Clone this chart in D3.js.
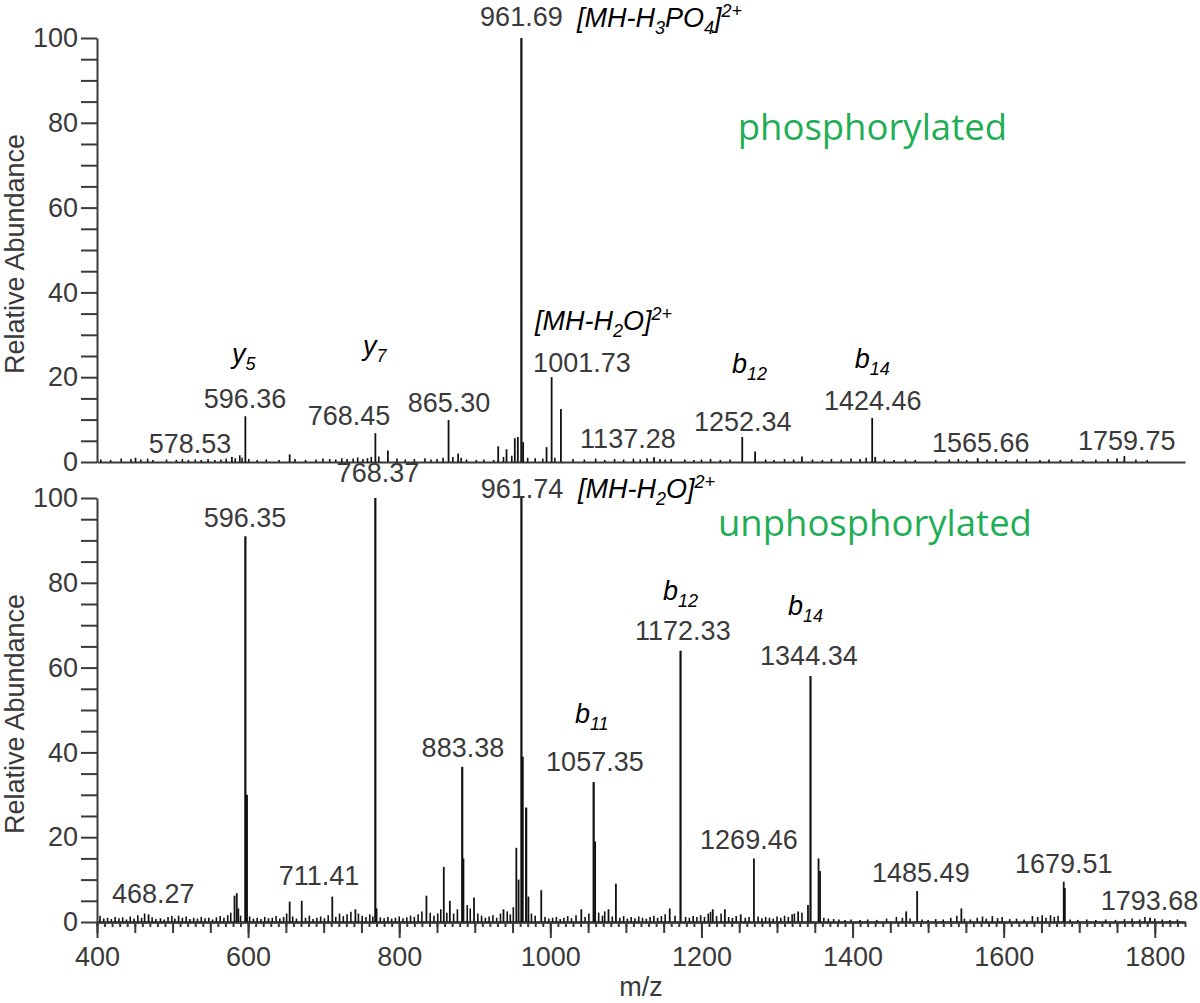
<!DOCTYPE html>
<html>
<head>
<meta charset="utf-8">
<script src="https://cdn.jsdelivr.net/npm/d3@7"></script>
<style>
  html, body { margin: 0; padding: 0; background: #fff; }
  svg { display: block; }
</style>
</head>
<body>
<svg id="chart" width="1200" height="1003"></svg>
<script>
// ---------------- DATA ----------------
// Phosphorylated spectrum: main peaks [m/z, relative abundance]
const phosPeaks = [
  [578.53, 1.2], [596.36, 10.8], [655, 1.8], [768.45, 6.8], [785, 2.7],
  [865.30, 9.9], [878, 2.0], [931, 3.7], [942, 3.0], [953, 5.6], [957, 5.9],
  [961.69, 100], [964, 4.7], [995, 3.5], [1001.73, 20], [1014, 12.5],
  [1137.28, 1.1], [1254, 5.9], [1271, 2.5], [1333, 1.3], [1426, 10.4], [1430, 1.2],
  [1565.66, 0.9], [1759.75, 1.4]
];
// Phosphorylated spectrum: baseline noise peaks
const phosNoise = [
  [405,0.6],[418,0.5],[432,0.8],[445,0.7],[451,1.0],[458,0.6],[467,0.8],[474,0.5],[492,0.6],
  [505,0.5],[513,0.7],[521,0.5],[530,0.6],[538,0.5],[547,0.7],[556,0.5],[564,0.6],[571,0.8],
  [583,0.9],[589,1.6],[592,1.0],[601,0.7],[612,0.5],[624,0.6],[641,0.5],[662,0.7],[676,0.5],
  [690,0.6],[699,0.8],[708,0.7],[716,0.6],[724,0.9],[731,0.7],[739,0.8],[745,1.1],[752,0.7],
  [758,0.9],[763,1.2],[773,1.3],[797,0.8],[808,0.6],[820,0.7],[834,0.9],[842,0.6],[850,0.7],
  [858,1.0],[871,1.2],[882,1.0],[889,0.6],[902,0.5],[912,0.6],[925,0.5],[938,1.2],[949,1.5],
  [970,1.0],[980,0.9],[990,0.8],[1006,1.0],[1030,0.7],[1045,0.6],[1060,0.8],[1072,0.5],
  [1085,0.7],[1097,0.6],[1110,0.8],[1119,0.6],[1128,0.9],[1145,0.7],[1152,0.6],[1160,0.7],
  [1178,0.6],[1190,0.5],[1200,0.6],[1212,0.7],[1225,0.5],[1238,0.6],[1285,0.6],[1296,0.5],
  [1310,0.7],[1322,0.6],[1347,0.6],[1360,0.5],[1372,0.7],[1385,0.6],[1398,0.8],[1410,0.7],
  [1418,1.0],[1442,0.6],[1455,0.5],[1470,0.6],[1483,0.5],[1510,0.5],[1528,0.6],[1540,0.7],
  [1551,0.5],[1578,0.6],[1590,0.7],[1603,0.5],[1618,0.6],[1630,0.7],[1648,0.5],[1660,0.6],
  [1675,0.5],[1690,0.6],[1705,0.5],[1722,0.6],[1738,0.7],[1750,0.9],[1775,0.6],[1790,0.5]
];
// Unphosphorylated spectrum: main peaks
const unphosPeaks = [
  [468.27, 1.8], [582, 6.2], [585, 6.8], [587, 3.2], [596.35, 91], [598.3, 30],
  [655, 4.8], [671, 5.0], [711.41, 6.0], [742, 3.0], [768.37, 100], [770, 3.2],
  [836, 6.2], [859, 13], [867, 5.0], [883.38, 36.6], [885, 15], [899, 5.8], [938, 3.0],
  [955, 17.5], [958, 10], [961.74, 100], [963.3, 39], [968, 27], [971, 6.0], [988, 7.5],
  [1041, 3.0], [1057.35, 33], [1059.3, 19], [1077, 3.0], [1086.8, 9.0], [1158, 3.2],
  [1172.33, 64], [1215, 3.0], [1231, 3.0], [1252, 1.8], [1269.46, 15], [1328, 2.5],
  [1341, 4.0], [1344.34, 58], [1355, 15], [1357, 12], [1471, 2.5], [1485.49, 7.3],
  [1544, 3.2], [1679.51, 9.5], [1681, 8.0], [1793.68, 1.0]
];
// Unphosphorylated spectrum: baseline noise peaks
const unphosNoise = [
  [404,1.5],[409,0.8],[414,1.0],[419,0.7],[424,1.2],[429,0.9],[434,1.1],[439,0.6],[444,1.3],
  [449,0.8],[454,1.6],[459,1.0],[463,2.0],[473,1.1],[478,0.7],[484,0.9],[489,0.6],[494,1.2],
  [499,1.4],[503,0.8],[508,1.5],[513,1.0],[518,1.3],[523,0.7],[528,1.0],[533,0.8],[538,1.2],
  [543,0.9],[548,1.0],[553,0.6],[558,1.1],[563,1.4],[568,1.0],[573,1.6],[577,2.2],[590,1.5],
  [602,1.3],[607,0.8],[612,1.0],[617,0.7],[622,1.2],[627,0.9],[632,1.0],[637,1.4],[642,0.8],
  [647,1.2],[651,2.0],[659,1.3],[664,0.8],[676,1.0],[681,1.5],[686,0.7],[691,1.0],[696,1.3],
  [701,0.9],[706,1.6],[716,1.2],[721,2.0],[726,1.4],[731,1.8],[736,2.4],[746,2.0],[751,1.5],
  [756,1.2],[761,1.8],[765,1.3],[775,1.1],[780,0.9],[785,1.2],[790,0.8],[795,1.0],[800,1.3],
  [805,0.9],[810,1.1],[815,1.5],[820,1.2],[825,1.8],[830,2.5],[841,2.2],[846,1.5],[851,2.0],
  [855,3.0],[863,2.2],[872,2.0],[877,3.0],[890,4.0],[894,3.2],[904,2.0],[909,1.5],[914,1.0],
  [919,1.3],[924,1.6],[929,1.0],[934,2.0],[943,2.5],[947,1.8],[951,3.5],[975,2.0],[980,1.5],
  [993,1.2],[998,0.8],[1003,1.0],[1008,1.2],[1013,0.7],[1018,1.0],[1023,1.4],[1028,0.9],
  [1034,1.6],[1046,1.2],[1051,2.0],[1064,2.2],[1069,1.5],[1072,2.5],[1082,1.3],[1092,1.0],
  [1097,1.4],[1102,0.8],[1107,1.2],[1112,0.9],[1117,1.3],[1122,1.0],[1127,0.8],[1132,1.2],
  [1137,1.5],[1142,1.0],[1147,1.4],[1152,1.8],[1165,1.5],[1179,1.2],[1184,1.0],[1189,1.4],
  [1194,1.2],[1199,1.6],[1204,1.2],[1209,2.0],[1212,2.4],[1220,1.4],[1226,2.0],[1236,1.2],
  [1241,1.0],[1246,1.4],[1258,1.0],[1263,1.2],[1275,1.3],[1280,0.9],[1285,1.2],[1290,1.0],
  [1295,0.8],[1300,1.3],[1305,1.0],[1310,1.5],[1315,1.2],[1320,1.8],[1323,2.0],[1333,2.2],
  [1362,1.0],[1368,0.8],[1375,0.7],[1382,0.6],[1390,0.5],[1398,0.6],[1410,0.5],[1420,0.6],
  [1432,0.5],[1445,0.8],[1458,1.2],[1466,1.0],[1476,0.8],[1492,0.6],[1500,0.5],[1510,0.7],
  [1520,0.6],[1530,1.0],[1538,1.5],[1548,0.8],[1556,0.6],[1565,1.0],[1572,1.3],[1577,0.8],
  [1585,1.4],[1592,0.9],[1598,1.2],[1608,0.7],[1617,0.8],[1627,0.6],[1638,1.4],[1645,1.2],
  [1651,1.6],[1656,1.0],[1662,1.6],[1667,1.2],[1672,1.5],[1688,0.6],[1698,0.5],[1710,0.6],
  [1722,0.5],[1735,0.6],[1748,0.5],[1760,0.7],[1770,0.8],[1780,0.6],[1787,1.2],[1800,0.8],
  [1810,0.6],[1820,0.5],[1830,0.6]
];
// m/z labels [text, anchor m/z (centre), anchor abundance (centre)]
const phosLabels = [
  ["961.69", 961.7, 105.2], ["1001.73", 1041.8, 23.6], ["865.30", 865.8, 14.2],
  ["1137.28", 1102.7, 5.7], ["1252.34", 1254.8, 9.7], ["596.36", 595.8, 15.1],
  ["578.53", 523, 4.5], ["768.45", 733.5, 11.1], ["1424.46", 1426.8, 14.6],
  ["1565.66", 1569.8, 4.7], ["1759.75", 1763, 5.2]
];
const unphosLabels = [
  ["596.35", 595.8, 95.5], ["768.37", 771.8, 106.0], ["961.74", 962.4, 102.4],
  ["1172.33", 1175.4, 68.9], ["1057.35", 1059, 38], ["883.38", 884.3, 41.3],
  ["1269.46", 1262.8, 19.6], ["1344.34", 1342.2, 63], ["1485.49", 1490.4, 11.8],
  ["1679.51", 1679.5, 13.9], ["468.27", 474.5, 6.8], ["711.41", 693.8, 11],
  ["1793.68", 1793, 5.2]
];
// Ion annotations: [parts, anchor m/z (left), anchor abundance (centre)]
const phosIons = [
  [[["[MH-H",""],["3","sub"],["PO",""],["4","sub"],["]",""],["2+","sup"]], 1035.2, 105],
  [[["[MH-H",""],["2","sub"],["O]",""],["2+","sup"]], 979.6, 33.5],
  [[["y",""],["5","sub"]], 578.6, 25.7],
  [[["y",""],["7","sub"]], 752, 27.6],
  [[["b",""],["12","sub"]], 1240.3, 23.3],
  [[["b",""],["14","sub"]], 1403, 24.5]
];
const unphosIons = [
  [[["[MH-H",""],["2","sub"],["O]",""],["2+","sup"]], 1036.5, 102.4],
  [[["b",""],["12","sub"]], 1149, 78.3],
  [[["b",""],["11","sub"]], 1032.5, 49.3],
  [[["b",""],["14","sub"]], 1314.4, 74.8]
];
const panelTitles = [["phosphorylated", 1248, 78.8], ["unphosphorylated", 1221.8, 93.9]];
const yTicks = d3.range(0, 101, 5);
const xMajor = [400, 600, 800, 1000, 1200, 1400, 1600, 1800];

// ---------------- DRAW ----------------
const svg = d3.select("#chart");
svg.append("rect").attr("width", 1200).attr("height", 1003).attr("fill", "#fff");

const x = d3.scaleLinear().domain([400, 1840]).range([97, 1185]);
const yTop = d3.scaleLinear().domain([0, 100]).range([462, 38]);
const yBot = d3.scaleLinear().domain([0, 100]).range([922, 498]);

const AX = "#3a3a3a";
const TXT = "#3a3a3a";
const SANS = "'Liberation Sans', Arial, sans-serif";
const FS = 27;
const MID = 0.36 * FS;  // shift from text centre to baseline

function drawPanel(y, peaks, noise, labels, ions, title, showX) {
  const g = svg.append("g").style("font-family", SANS);
  // y axis
  const ya = g.append("g").attr("transform", `translate(${x(400)},0)`)
    .call(d3.axisLeft(y).tickValues(yTicks).tickSize(16).tickSizeOuter(0).tickPadding(3)
      .tickFormat(d => d % 20 === 0 ? d : ""));
  ya.select(".domain").attr("stroke", AX).attr("stroke-width", 2);
  ya.selectAll(".tick line").attr("stroke", AX).attr("stroke-width", 2);
  ya.selectAll(".tick text").attr("fill", TXT).style("font-size", FS + "px")
    .style("font-family", SANS);

  // x axis
  const base = y(0);
  if (showX) {
    const mk = (vals, size, labelled) => {
      const a = g.append("g").attr("transform", `translate(0,${base})`)
        .call(d3.axisBottom(x).tickValues(vals).tickSize(size).tickSizeOuter(0).tickPadding(9)
          .tickFormat(labelled ? d3.format("d") : () => ""));
      a.selectAll(".tick line").attr("stroke", AX).attr("stroke-width", 2);
      a.select(".domain").attr("stroke", AX).attr("stroke-width", 2);
      a.selectAll(".tick text").attr("fill", TXT).style("font-size", FS + "px")
        .style("font-family", SANS);
      return a;
    };
    mk(d3.range(400, 1841, 10), 5, false);
    mk(d3.range(400, 1841, 50), 11, false);
    mk(xMajor, 16, true);
  } else {
    const a = g.append("g").attr("transform", `translate(0,${base})`)
      .call(d3.axisBottom(x).tickValues([]).tickSizeOuter(0));
    a.select(".domain").attr("stroke", AX).attr("stroke-width", 2);
  }

  // peaks
  g.append("g").selectAll("line").data(noise).join("line")
    .attr("x1", d => x(d[0])).attr("x2", d => x(d[0]))
    .attr("y1", base).attr("y2", d => y(d[1]))
    .attr("stroke", "#111").attr("stroke-width", 1.6);
  g.append("g").selectAll("line").data(peaks).join("line")
    .attr("x1", d => x(d[0])).attr("x2", d => x(d[0]))
    .attr("y1", base).attr("y2", d => y(d[1]))
    .attr("stroke", "#111").attr("stroke-width", d => d[1] > 20 ? 2.2 : 1.8);

  // m/z labels
  g.append("g").selectAll("text").data(labels).join("text")
    .attr("x", d => x(d[1])).attr("y", d => y(d[2]) + MID)
    .attr("text-anchor", "middle").style("font-size", FS + "px").attr("fill", TXT)
    .text(d => d[0]);

  // ion annotations
  ions.forEach(([parts, mz, v]) => {
    const t = g.append("text").attr("x", x(mz)).attr("y", y(v) + MID)
      .style("font-style", "italic").style("font-size", FS + "px").attr("fill", "#000");
    let shift = 0;
    parts.forEach(([s, type]) => {
      const target = type === "sub" ? 7 : type === "sup" ? -10 : 0;
      t.append("tspan").attr("dy", target - shift)
        .style("font-size", (type ? 18 : FS) + "px").text(s);
      shift = target;
    });
  });

  // panel title
  g.append("text").attr("x", x(title[1])).attr("y", y(title[2]) + 12)
    .style("font-family", "'Open Sans', Lato, sans-serif").style("font-size", "36.5px")
    .attr("fill", "#1fae55").text(title[0]);

  // y label
  g.append("text")
    .attr("transform", `translate(14,${(y(0) + y(100)) / 2 + 4}) rotate(-90)`)
    .attr("dy", "0.36em").attr("text-anchor", "middle")
    .style("font-size", FS + "px").attr("fill", TXT).text("Relative Abundance");
}

drawPanel(yTop, phosPeaks, phosNoise, phosLabels, phosIons, panelTitles[0], false);
drawPanel(yBot, unphosPeaks, unphosNoise, unphosLabels, unphosIons, panelTitles[1], true);

svg.append("text").attr("x", x(1120)).attr("y", 986 + MID)
  .attr("text-anchor", "middle").style("font-family", SANS).style("font-size", FS + "px")
  .attr("fill", TXT).text("m/z");
</script>
</body>
</html>
